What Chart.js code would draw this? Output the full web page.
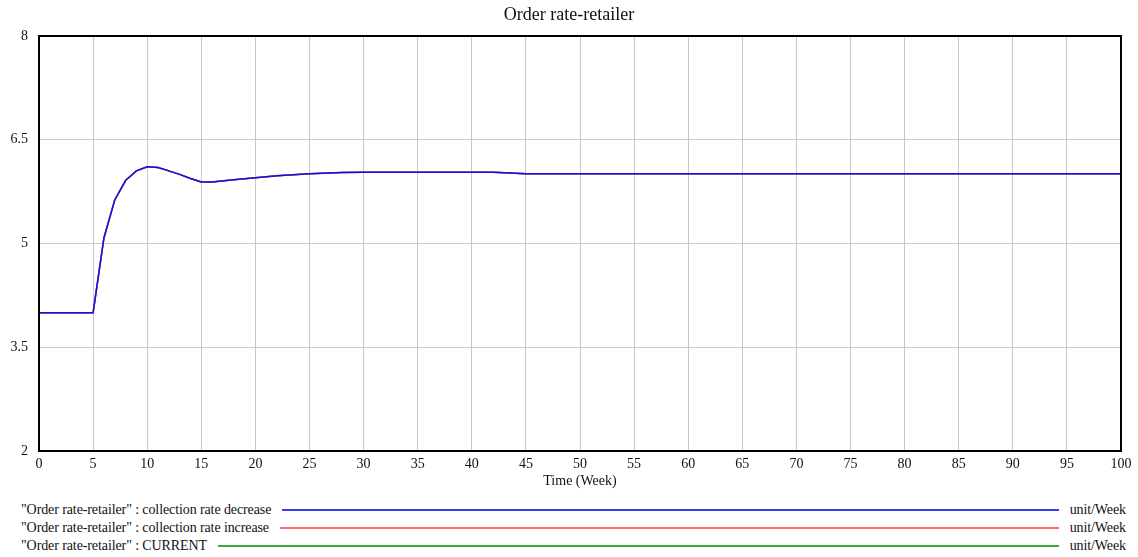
<!DOCTYPE html>
<html>
<head>
<meta charset="utf-8">
<script src="https://cdn.jsdelivr.net/npm/chart.js@4/dist/chart.umd.min.js"></script>
<style>
  body { margin: 0; background: #fff; font-family: "Liberation Serif", "Times New Roman", serif; color: #111; }
  #wrap { position: relative; width: 1138px; height: 495px; }
  .legend { position: absolute; left: 21px; right: 12px; font-size: 14px; letter-spacing: -0.1px; }
  .row { display: flex; align-items: center; height: 18px; }
  .row .line { flex: 1; margin: 0 11px 0 11px; height: 2px; }
</style>
</head>
<body>
<div id="wrap"><canvas id="chart" width="1138" height="495"></canvas></div>
<div class="legend" style="top:501px">
  <div class="row"><span>"Order rate-retailer" : collection rate decrease</span><span class="line" style="background:#3a3af0"></span><span>unit/Week</span></div>
  <div class="row"><span>"Order rate-retailer" : collection rate increase</span><span class="line" style="background:#ff6a6a"></span><span>unit/Week</span></div>
  <div class="row"><span>"Order rate-retailer" : CURRENT</span><span class="line" style="background:#3aa83a"></span><span>unit/Week</span></div>
</div>
<script>
const weeks = [0, 5, 6, 7, 8, 9, 10, 11, 12, 13, 14, 15, 16, 18, 20, 22, 25, 28, 30, 35, 40, 42, 45,
  50, 55, 60, 65, 70, 75, 80, 85, 90, 95, 100];
const decreaseValues = [4, 4, 5.08, 5.63, 5.91, 6.05, 6.11, 6.1, 6.05, 6.0, 5.94, 5.89, 5.89, 5.92, 5.95, 5.98, 6.01, 6.025, 6.03,
  6.03, 6.03, 6.03, 6.01, 6.01, 6.01, 6.01, 6.01, 6.01, 6.01, 6.01, 6.01, 6.01, 6.01, 6.01];
const increaseValues = [4, 4, 5.08, 5.63, 5.91, 6.05, 6.11, 6.1, 6.05, 6.0, 5.94, 5.89, 5.89, 5.92, 5.95, 5.98, 6.01, 6.025, 6.03,
  6.03, 6.03, 6.03, 6.01, 6.01, 6.01, 6.01, 6.01, 6.01, 6.01, 6.01, 6.01, 6.01, 6.01, 6.01];
const currentValues = [4, 4, 5.08, 5.63, 5.91, 6.05, 6.11, 6.1, 6.05, 6.0, 5.94, 5.89, 5.89, 5.92, 5.95, 5.98, 6.01, 6.025, 6.03,
  6.03, 6.03, 6.03, 6.01, 6.01, 6.01, 6.01, 6.01, 6.01, 6.01, 6.01, 6.01, 6.01, 6.01, 6.01];
const yTicks = [2, 3.5, 5, 6.5, 8];

const FONT = '"Liberation Serif", "Times New Roman", serif';
const pts = (vals) => weeks.map((w, i) => ({ x: w, y: vals[i] }));

// black frame round the plot area
const frame = {
  id: 'frame',
  afterDraw(chart) {
    const { ctx, chartArea: a } = chart;
    ctx.save();
    ctx.strokeStyle = '#000';
    ctx.lineWidth = 2;
    ctx.strokeRect(a.left, a.top, a.right - a.left, a.bottom - a.top);
    ctx.restore();
  }
};

new Chart(document.getElementById('chart'), {
  type: 'line',
  data: {
    datasets: [
      { label: 'collection rate decrease', data: pts(decreaseValues), borderColor: '#1010ee' },
      { label: 'collection rate increase', data: pts(increaseValues), borderColor: '#ff4a4a' },
      { label: 'CURRENT', data: pts(currentValues), borderColor: '#2a9a2a' }
    ].map(d => Object.assign(d, { borderWidth: 1.5, pointRadius: 0, tension: 0, fill: false }))
  },
  options: {
    responsive: false,
    animation: false,
    layout: { padding: 0 },
    plugins: {
      legend: { display: false },
      tooltip: { enabled: false },
      title: {
        display: true,
        text: 'Order rate-retailer',
        color: '#111',
        font: { family: FONT, size: 18, weight: 'normal', lineHeight: 1.2 },
        padding: { top: 4.7, bottom: 9.7 }
      }
    },
    scales: {
      x: {
        type: 'linear',
        min: 0, max: 100,
        afterFit: (s) => { s.height = 44; },
        ticks: { stepSize: 5, padding: 5, color: '#111', font: { family: FONT, size: 14 } },
        grid: { color: '#c8c8c8', drawTicks: false },
        border: { display: false },
        title: {
          display: true, text: 'Time (Week)', color: '#111',
          font: { family: FONT, size: 14 }, padding: { top: 0, bottom: 5.6 }
        }
      },
      y: {
        min: 2, max: 8,
        afterFit: (s) => { s.width = 39; },
        afterBuildTicks: (s) => { s.ticks = yTicks.map(v => ({ value: v })); },
        ticks: { padding: 11, color: '#111', font: { family: FONT, size: 14 } },
        grid: { color: '#c8c8c8', drawTicks: false },
        border: { display: false }
      },
      // empty strip on the right, keeps the plot off the edge
      yRight: {
        position: 'right',
        afterFit: (s) => { s.width = 17; },
        ticks: { display: false },
        grid: { display: false },
        border: { display: false }
      }
    }
  },
  plugins: [frame]
});
</script>
</body>
</html>
